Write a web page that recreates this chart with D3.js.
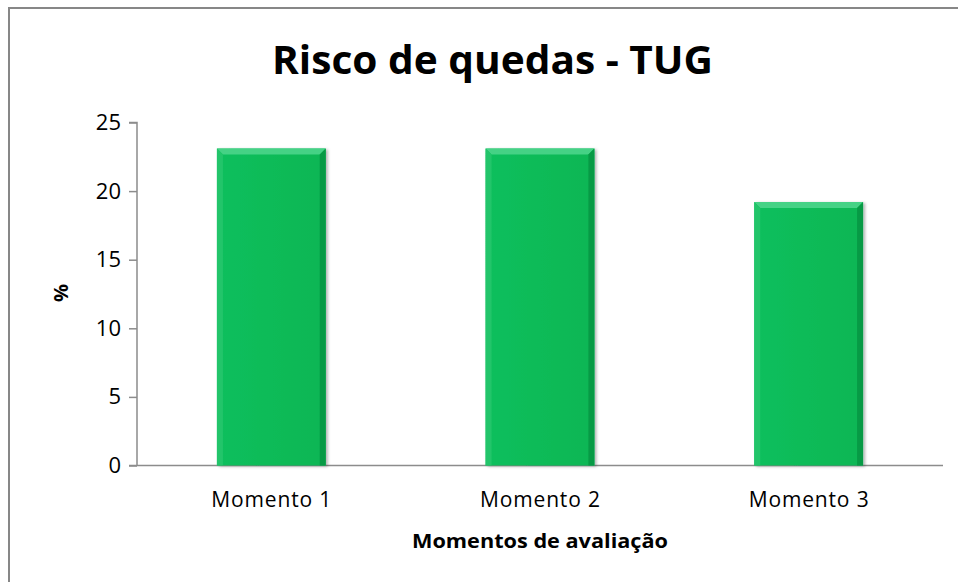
<!DOCTYPE html>
<html><head><meta charset="utf-8">
<script src="https://cdn.jsdelivr.net/npm/d3@7"></script>
<style>body{margin:0;background:#fff}svg{display:block}</style>
</head><body><svg id="c" width="958" height="582"></svg>
<script>
const categories = ["Momento 1", "Momento 2", "Momento 3"];
const values = [23.1, 23.1, 19.2];
const yTicks = [0, 5, 10, 15, 20, 25];
const title = "Risco de quedas - TUG";
const xTitle = "Momentos de avaliação";
const yTitle = "%";

const svg = d3.select("#c");
const F = "'Open Sans', sans-serif";
svg.append("rect").attr("x",9).attr("y",8).attr("width",1000).attr("height",1000)
  .attr("fill","#fff").attr("stroke","#878787").attr("stroke-width",2);

const L = 137, R = 943, T = 122.5, B = 465.5;
const x = d3.scaleBand().domain(categories).range([L, R]).paddingInner(0.595).paddingOuter(0.2975);
const y = d3.scaleLinear().domain([0, 25]).range([B, T]);

const defs = svg.append("defs");
const g = defs.append("linearGradient").attr("id","bg").attr("x1","0").attr("x2","1");
g.append("stop").attr("offset","0").attr("stop-color","#10bf5d");
g.append("stop").attr("offset","0.5").attr("stop-color","#0cbb58");
g.append("stop").attr("offset","1").attr("stop-color","#0ab654");
const f = defs.append("filter").attr("id","sh").attr("x","-10%").attr("y","-10%").attr("width","130%").attr("height","130%");
f.append("feDropShadow").attr("dx",2).attr("dy",1).attr("stdDeviation",1.5).attr("flood-color","#000").attr("flood-opacity",0.3);

// axes
const ya = d3.axisLeft(y).tickValues(yTicks).tickSize(8).tickPadding(8);
const yg = svg.append("g").attr("transform",`translate(${L},0)`).call(ya);
yg.select(".domain").attr("stroke","#8c8c8c").attr("stroke-width",1.5).attr("d",`M-8,${T}H0V${B}`);
yg.selectAll(".tick line").attr("stroke","#8c8c8c").attr("stroke-width",1.5);
yg.selectAll(".tick text").attr("font-family",F).attr("font-size",22).attr("fill","#000");

const xa = d3.axisBottom(x).tickSize(0).tickPadding(29);
const xg = svg.append("g").attr("transform",`translate(0,${B})`).call(xa);
xg.select(".domain").attr("stroke","#8c8c8c").attr("stroke-width",1.5).attr("d",`M${L-8},0H${R}`);
xg.selectAll(".tick text").attr("font-family",F).attr("font-size",21).attr("fill","#000")
  .attr("textLength",120).attr("dy","0.6em");

// bars
const b = 6;
const bars = svg.append("g").selectAll("g").data(values).join("g");
bars.each(function(v,i){
  const s = d3.select(this);
  const x0 = x(categories[i]), x1 = x0 + x.bandwidth(), y0 = y(v), yb = y(0);
  s.append("rect").attr("x",x0).attr("y",y0).attr("width",x1-x0).attr("height",yb-y0)
    .attr("fill","url(#bg)").attr("filter","url(#sh)");
  s.append("polygon").attr("points",[[x0,y0],[x1,y0],[x1-b,y0+b],[x0+b,y0+b]].join(" ")).attr("fill","#45d285");
  s.append("polygon").attr("points",[[x0,y0],[x0+b,y0+b],[x0+b,yb],[x0,yb]].join(" ")).attr("fill","#22c56a");
  s.append("polygon").attr("points",[[x1,y0],[x1-b,y0+b],[x1-b,yb],[x1,yb]].join(" ")).attr("fill","#079a45");
});

svg.append("text").attr("x",492.5).attr("y",74).attr("text-anchor","middle")
  .attr("font-family",F).attr("font-weight","bold").attr("font-size",40)
  .attr("textLength",441).attr("lengthAdjust","spacingAndGlyphs").text(title);
svg.append("text").attr("x",540).attr("y",548).attr("text-anchor","middle")
  .attr("font-family",F).attr("font-weight","bold").attr("font-size",19)
  .attr("textLength",256).attr("lengthAdjust","spacingAndGlyphs").text(xTitle);
svg.append("text").attr("transform","translate(68,293) rotate(-90)").attr("text-anchor","middle")
  .attr("font-family",F).attr("font-weight","bold").attr("font-size",20).text(yTitle);
</script></body></html>
